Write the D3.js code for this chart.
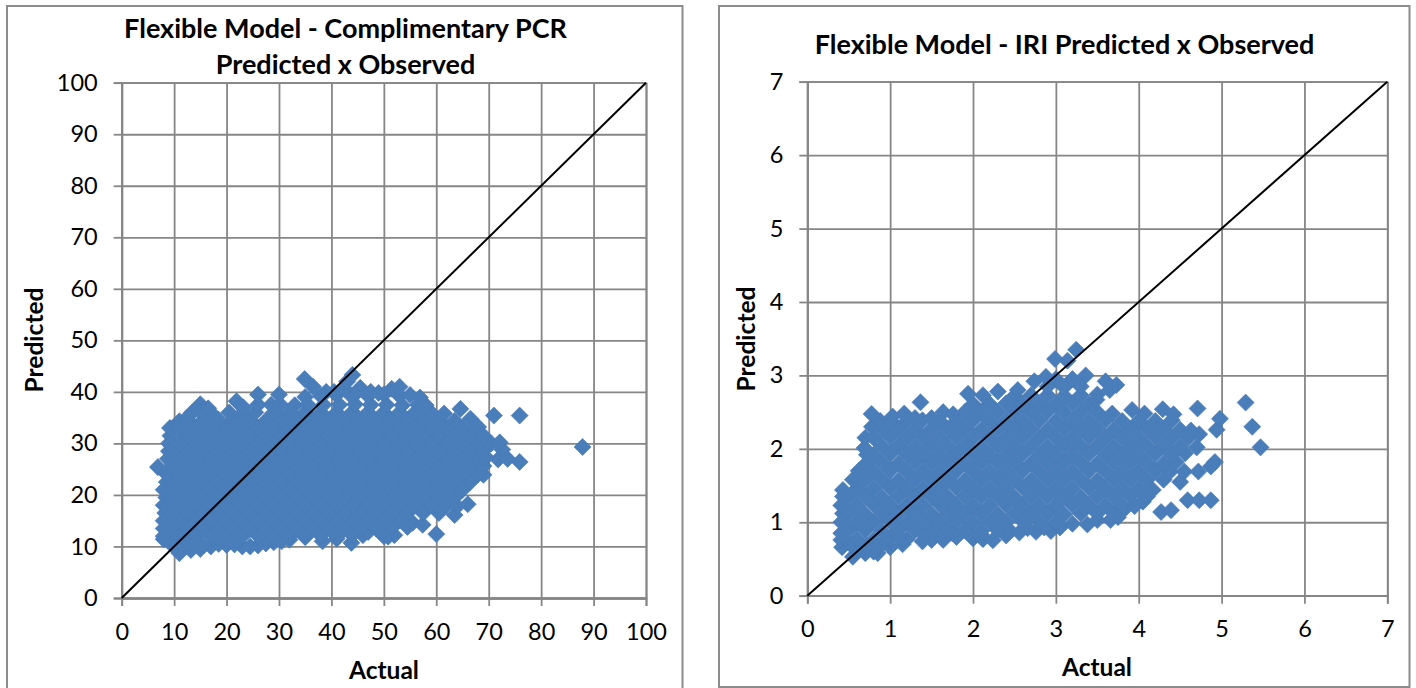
<!DOCTYPE html>
<html>
<head>
<meta charset="utf-8">
<title>Flexible Model - Predicted x Observed</title>
<script src="https://cdn.jsdelivr.net/npm/d3@7"></script>
<style>
  html, body { margin: 0; padding: 0; background: #fff; overflow: hidden; }
  svg { display: block; }
  text { font-family: Lato, "Open Sans", sans-serif; fill: #000; }
</style>
</head>
<body>
<div id="figure"></div>
<script>
// tick labels
const pcrTicks = [0, 10, 20, 30, 40, 50, 60, 70, 80, 90, 100];
const iriTicks = [0, 1, 2, 3, 4, 5, 6, 7];

// 1:1 reference lines
const pcrDiagonal = [[0, 0], [100, 100]];
const iriDiagonal = [[0, 0], [7, 7]];

// [actual, predicted]
const pcrPoints = [
  [11,8.7],[13.2,9.3],[15,9.5],[17,10],[20,10.3],[23,10],[26,10.2],[29,10.8],[32,11.3],[35,11.8],[41,11.5],[46,12.2],
  [9.5,10.4],[12.5,10.5],[15.5,10.3],[18.5,10.5],[21.5,10.4],[24.5,10],[27.5,10.6],[30.5,11],[38.3,11],[43.8,10.7],
  [8,11.4],[8,12],[11,12],[14,12],[17,12.1],[20,12],[23,12],[26,12.1],[29,12],[32,12],[35,12],[38,12.1],[41,12],[44,12.2],[47,12.8],[50,12],[50.8,11.9],[52,12.2],
  [8,13.5],[9.5,13.5],[12.5,13.5],[15.5,13.6],[18.5,13.5],[21.5,13.5],[24.5,13.4],[27.5,13.5],[30.5,13.5],[33.5,13.6],[36.5,13.5],[39.5,13.5],[42.5,13.4],[45.5,13.5],[48.5,13.5],[51.5,13.6],[54.5,13.8],
  [8,15],[11,15],[14,15.1],[17,15],[20,15],[23,15],[26,15],[29,15.1],[32,15],[35,15],[38,15],[41,15.1],[44,15],[47,15],[50,15],[53,15.1],[55.5,14.6],[57.4,14.2],
  [8.3,16.5],[9.5,16.4],[12.5,16.5],[15.5,16.5],[18.5,16.6],[21.5,16.5],[24.5,16.5],[27.5,16.5],[30.5,16.4],[33.5,16.5],[36.5,16.5],[39.5,16.6],[42.5,16.5],[45.5,16.5],[48.5,16.5],[51.5,16.4],[54.5,16.5],[57.5,16.5],[60.5,16.5],[63.5,16.1],
  [8,18],[11,18],[14,18],[17,18.1],[20,18],[23,18],[26,18],[29,18],[32,18.1],[35,18],[38,18],[41,18],[44,18],[47,18.1],[50,18],[53,18],[56,18],[59,18.1],[62,18],[66,18.2],[64,17.8],
  [8.5,19.5],[9.5,19.5],[12.5,19.5],[15.5,19.4],[18.5,19.5],[21.5,19.5],[24.5,19.6],[27.5,19.5],[30.5,19.5],[33.5,19.5],[36.5,19.4],[39.5,19.5],[42.5,19.5],[45.5,19.6],[48.5,19.5],[51.5,19.5],[54.5,19.5],[57.5,19.4],[60.5,19.5],[63.5,19.5],
  [8,21],[11,21],[14,21.1],[17,21],[20,21],[23,21],[26,21],[29,21.1],[32,21],[35,21],[38,21],[41,21],[44,21.1],[47,21],[50,21],[53,21],[56,21.1],[59,21],[62,21],[65,21],
  [8.6,22.5],[9.5,22.5],[12.5,22.5],[15.5,22.6],[18.5,22.5],[21.5,22.5],[24.5,22.4],[27.5,22.5],[30.5,22.5],[33.5,22.6],[36.5,22.5],[39.5,22.5],[42.5,22.4],[45.5,22.5],[48.5,22.5],[51.5,22.6],[54.5,22.5],[57.5,22.5],[60.5,22.4],[63.5,22.5],[66.5,22.5],
  [8.6,24],[11,24],[14,24],[17,24.1],[20,24],[23,24],[26,24],[29,24],[32,24.1],[35,24],[38,24],[41,24],[44,24],[47,24.1],[50,24],[53,24],[56,24],[59,24.1],[62,24],[65,24],[68,24],[69,23.9],
  [6.9,25.4],[9.5,25.5],[12.5,25.5],[15.5,25.4],[18.5,25.5],[21.5,25.5],[24.5,25.6],[27.5,25.5],[30.5,25.5],[33.5,25.4],[36.5,25.5],[39.5,25.5],[42.5,25.6],[45.5,25.5],[48.5,25.5],[51.5,25.5],[54.5,25.4],[57.5,25.5],[60.5,25.5],[63.5,25.6],[66.5,25.5],[69,25.6],
  [8.8,27],[11,27],[14,27.1],[17,27],[20,27],[23,27],[26,27],[29,27.1],[32,27],[35,27],[38,27],[41,27],[44,27.1],[47,27],[50,27],[53,27],[56,27.1],[59,27],[62,27],[65,27],[68,27.1],[69.5,27.3],[71.8,26.9],[73.6,27],[75.9,26.4],
  [9,28.5],[9.5,28.5],[12.5,28.5],[15.5,28.6],[18.5,28.5],[21.5,28.5],[24.5,28.4],[27.5,28.5],[30.5,28.5],[33.5,28.6],[36.5,28.5],[39.5,28.5],[42.5,28.4],[45.5,28.5],[48.5,28.5],[51.5,28.6],[54.5,28.5],[57.5,28.5],[60.5,28.4],[63.5,28.5],[66.5,28.5],[69,28.6],[72.6,28.8],
  [9,30],[11,30],[14,30],[17,30.1],[20,30],[23,30],[26,30],[29,30],[32,30.1],[35,30],[38,30],[41,30],[44,30],[47,30.1],[50,30],[53,30],[56,30],[59,30.1],[62,30],[65,30],[68,30],[70.5,30],[72.1,30.2],
  [9.3,31.5],[12.5,31.5],[15.5,31.4],[18.5,31.5],[21.5,31.5],[24.5,31.6],[27.5,31.5],[30.5,31.5],[33.5,31.4],[36.5,31.5],[39.5,31.5],[42.5,31.6],[45.5,31.5],[48.5,31.5],[51.5,31.5],[54.5,31.4],[57.5,31.5],[60.5,31.5],[63.5,31.6],[66.5,31.5],[69,31.5],
  [9.2,33],[11,33],[14,33.1],[17,33],[20,33],[23,33],[26,33],[29,33.1],[32,33],[35,33],[38,33],[41,33],[44,33.1],[47,33],[50,33],[53,33],[56,33.1],[59,33],[62,33],[65,33],[68,33.2],
  [11,34.3],[12.5,34.5],[15.5,34.5],[18.5,34.6],[21.5,34.5],[24.5,34.5],[27.5,34.4],[30.5,34.5],[33.5,34.5],[36.5,34.6],[39.5,34.5],[42.5,34.5],[45.5,34.4],[48.5,34.5],[51.5,34.5],[54.5,34.6],[57.5,34.5],[60.5,34.5],[63.5,34.4],[66.5,34.8],[71,35.4],[75.9,35.4],
  [12.5,35],[13.4,36],[15,36.2],[17,36],[20.5,36],[23,35.8],[25.5,36],[29,36],[32,36.1],[35,36],[38,36],[41,36],[44,36.1],[47,36],[50,36],[53,36],[56,36.1],[59,36],[61.5,35.8],[64.6,36.7],
  [15,37.6],[16.5,36.8],[21.9,38.2],[23.2,37],[26,37.5],[28.5,37.5],[30.2,37.6],[33,37.4],[35.5,37.5],[38.5,37.5],[41.5,37.5],[44.5,37.6],[47.5,37.5],[50.5,37.5],[53.5,37.4],[56.5,37.5],[58,37.4],
  [26,39.5],[30,39.5],[35,39],[38,39.2],[41,39.4],[44,39],[47,39.2],[50,39.5],[53,39.2],[55,39.4],[56.9,38.9],
  [36.5,41],[39,40],[40.5,40],[42.5,40.6],[45.5,40.8],[47.5,40],[49,39.8],[51.5,40.6],[53,41],
  [34.9,42.5],[43,42],[44,43.3],
  [87.9,29.3],[60,12.4]
];

// [actual, predicted]
const iriPoints = [
  [0.55,0.53],[0.7,0.58],[0.85,0.58],
  [0.42,0.66],[0.6,0.62],[0.8,0.6],[1,0.66],[1.15,0.7],[0.52,0.7],[0.72,0.68],[0.9,0.7],
  [0.41,0.76],[0.6,0.77],[0.8,0.76],[1,0.78],[1.2,0.77],[1.39,0.74],[1.5,0.76],[1.64,0.76],[1.8,0.8],[2,0.78],[2.12,0.77],[2.24,0.755],[2.4,0.82],[1.1,0.8],[1.4,0.84],[1.6,0.84],[1.75,0.85],[2.1,0.83],[2.45,0.88],
  [0.41,0.85],[0.5,0.89],[0.7,0.89],[0.9,0.88],[1.1,0.89],[1.3,0.89],[1.5,0.88],[1.7,0.89],[1.9,0.89],[2.1,0.88],[2.3,0.89],[2.56,0.86],[2.76,0.87],[2.94,0.88],[2.66,0.92],[2.86,0.93],[3.05,0.93],
  [0.41,1],[0.6,1],[0.8,1],[1,1.01],[1.2,1],[1.4,1],[1.6,1],[1.8,1.01],[2,1],[2.2,1],[2.4,1],[2.6,1.01],[2.8,1],[3,1],[3.2,0.98],[3.38,0.97],[3.66,1.03],[3.5,1.03],[3.75,1.07],
  [0.43,1.12],[0.5,1.12],[0.7,1.11],[0.9,1.12],[1.1,1.12],[1.3,1.12],[1.5,1.11],[1.7,1.12],[1.9,1.12],[2.1,1.12],[2.3,1.11],[2.5,1.12],[2.7,1.12],[2.9,1.12],[3.1,1.11],[3.3,1.12],[3.5,1.12],[3.7,1.12],[3.81,1.16],[4.27,1.14],[4.39,1.165],
  [0.41,1.23],[0.6,1.23],[0.8,1.24],[1,1.23],[1.2,1.23],[1.4,1.23],[1.6,1.24],[1.8,1.23],[2,1.23],[2.2,1.23],[2.4,1.24],[2.6,1.23],[2.8,1.23],[3,1.23],[3.2,1.24],[3.4,1.23],[3.6,1.23],[3.8,1.23],[4.05,1.28],[3.95,1.22],
  [0.43,1.35],[0.5,1.35],[0.7,1.35],[0.9,1.34],[1.1,1.35],[1.3,1.35],[1.5,1.35],[1.7,1.34],[1.9,1.35],[2.1,1.35],[2.3,1.35],[2.5,1.34],[2.7,1.35],[2.9,1.35],[3.1,1.35],[3.3,1.34],[3.5,1.35],[3.7,1.35],[3.9,1.35],[4.1,1.35],[4.59,1.3],[4.73,1.3],[4.87,1.3],
  [0.43,1.44],[0.6,1.46],[0.8,1.46],[1,1.47],[1.2,1.46],[1.4,1.46],[1.6,1.46],[1.8,1.47],[2,1.46],[2.2,1.46],[2.4,1.46],[2.6,1.47],[2.8,1.46],[3,1.46],[3.2,1.46],[3.4,1.47],[3.6,1.46],[3.8,1.46],[4,1.46],[4.17,1.44],
  [0.55,1.58],[0.7,1.58],[0.9,1.58],[1.1,1.57],[1.3,1.58],[1.5,1.58],[1.7,1.58],[1.9,1.57],[2.1,1.58],[2.3,1.58],[2.5,1.58],[2.7,1.57],[2.9,1.58],[3.1,1.58],[3.3,1.58],[3.5,1.57],[3.7,1.58],[3.9,1.58],[4.1,1.58],[4.3,1.58],[4.5,1.55],
  [0.62,1.7],[0.8,1.69],[1,1.7],[1.2,1.69],[1.4,1.69],[1.6,1.69],[1.8,1.7],[2,1.69],[2.2,1.69],[2.4,1.69],[2.6,1.7],[2.8,1.69],[3,1.69],[3.2,1.69],[3.4,1.7],[3.6,1.69],[3.8,1.69],[4,1.69],[4.2,1.7],[4.38,1.69],[4.55,1.69],[4.72,1.69],
  [0.72,1.81],[0.9,1.81],[1.1,1.8],[1.3,1.81],[1.5,1.81],[1.7,1.81],[1.9,1.8],[2.1,1.81],[2.3,1.81],[2.5,1.81],[2.7,1.8],[2.9,1.81],[3.1,1.81],[3.3,1.81],[3.5,1.8],[3.7,1.81],[3.9,1.81],[4.1,1.81],[4.3,1.8],[4.45,1.82],[4.92,1.82],[4.87,1.76],
  [0.72,1.92],[0.8,1.92],[1,1.93],[1.2,1.92],[1.4,1.92],[1.6,1.92],[1.8,1.93],[2,1.92],[2.2,1.92],[2.4,1.92],[2.6,1.93],[2.8,1.92],[3,1.92],[3.2,1.92],[3.4,1.93],[3.6,1.92],[3.8,1.92],[4,1.92],[4.2,1.93],[4.4,1.92],[4.56,1.94],
  [0.69,2.01],[0.9,2.04],[1.1,2.04],[1.3,2.03],[1.5,2.04],[1.7,2.04],[1.9,2.04],[2.1,2.03],[2.3,2.04],[2.5,2.04],[2.7,2.04],[2.9,2.03],[3.1,2.04],[3.3,2.04],[3.5,2.04],[3.7,2.03],[3.9,2.04],[4.1,2.04],[4.3,2.04],[4.5,2.03],[4.7,2.02],[5.47,2.02],
  [0.7,2.15],[0.8,2.15],[1,2.16],[1.2,2.15],[1.4,2.15],[1.6,2.15],[1.8,2.16],[2,2.15],[2.2,2.15],[2.4,2.15],[2.6,2.16],[2.8,2.15],[3,2.15],[3.2,2.15],[3.4,2.16],[3.6,2.15],[3.8,2.15],[4,2.15],[4.2,2.16],[4.4,2.15],[4.6,2.15],[4.73,2.2],
  [0.78,2.3],[0.9,2.27],[1.1,2.27],[1.3,2.26],[1.5,2.27],[1.7,2.27],[1.9,2.27],[2.1,2.26],[2.3,2.27],[2.5,2.27],[2.7,2.27],[2.9,2.26],[3.1,2.27],[3.3,2.27],[3.5,2.27],[3.7,2.26],[3.9,2.27],[4.1,2.27],[4.3,2.27],[4.5,2.26],[4.63,2.25],[4.94,2.26],
  [0.88,2.38],[1,2.38],[1.2,2.38],[1.39,2.39],[1.6,2.38],[1.8,2.38],[2,2.39],[2.2,2.38],[2.4,2.38],[2.6,2.38],[2.8,2.39],[3,2.38],[3.2,2.38],[3.4,2.38],[3.6,2.39],[3.8,2.38],[4,2.38],[4.2,2.38],[4.4,2.39],[4.98,2.41],[5.37,2.3],
  [0.776,2.475],[1.03,2.44],[1.17,2.48],[1.3,2.42],[1.5,2.42],[1.64,2.5],[1.76,2.47],[1.9,2.5],[2.1,2.5],[2.3,2.5],[2.5,2.5],[2.7,2.5],[2.9,2.51],[3.1,2.5],[3.3,2.5],[3.5,2.5],[3.68,2.48],[3.92,2.53],[4.07,2.48],[4.29,2.54],[4.42,2.47],[4.71,2.55],
  [1.366,2.634],[2,2.61],[2.2,2.61],[2.4,2.62],[2.6,2.61],[2.8,2.61],[3,2.61],[3.2,2.62],[3.4,2.61],[3.49,2.67],[5.29,2.63],
  [1.94,2.75],[2.12,2.73],[2.3,2.78],[2.5,2.72],[2.7,2.73],[2.9,2.73],[3.1,2.72],[3.3,2.73],[3.5,2.74],[3.65,2.8],
  [2.54,2.8],[2.74,2.92],[2.9,2.85],[3.1,2.84],[3.3,2.85],[3.6,2.92],[3.73,2.87],
  [2.88,2.98],[3,2.95],[3.2,2.95],[3.36,3],
  [2.99,3.225],[3.14,3.2],[3.245,3.35]
];

const width = 1416, height = 688;
const gridColor = "#868686";

const svg = d3.select("#figure").append("svg")
  .attr("width", width)
  .attr("height", height);

function drawChart(opt) {
  const x = d3.scaleLinear().domain([0, opt.max]).range([opt.left, opt.right]);
  const y = d3.scaleLinear().domain([0, opt.max]).range([opt.bottom, opt.top]);
  const g = svg.append("g");

  // chart border
  g.append("rect")
    .attr("x", opt.frame[0]).attr("y", opt.frame[1])
    .attr("width", opt.frame[2] - opt.frame[0]).attr("height", opt.frame[3] - opt.frame[1])
    .attr("fill", "#fff").attr("stroke", "#8c8c8c").attr("stroke-width", 2);

  // gridlines, drawn with the axes so they sit under the markers
  const xAxis = d3.axisBottom(x).tickValues(opt.ticks).tickSize(8).tickPadding(opt.xPad).tickFormat(d3.format("d"));
  const yAxis = d3.axisLeft(y).tickValues(opt.ticks).tickSize(8).tickPadding(opt.yPad).tickFormat(d3.format("d"));
  const xGrid = d3.axisBottom(x).tickValues(opt.ticks).tickSize(opt.top - opt.bottom).tickFormat("");
  const yGrid = d3.axisLeft(y).tickValues(opt.ticks).tickSize(opt.left - opt.right).tickFormat("");

  g.append("g").attr("transform", `translate(0,${opt.bottom})`).call(xGrid);
  g.append("g").attr("transform", `translate(${opt.left},0)`).call(yGrid);
  g.append("g").attr("transform", `translate(0,${opt.bottom})`).call(xAxis);
  g.append("g").attr("transform", `translate(${opt.left},0)`).call(yAxis);

  g.selectAll(".domain, .tick line")
    .attr("stroke", gridColor)
    .attr("stroke-width", 1.8);
  g.selectAll(".tick text")
    .style("font-size", "23.5px")
    .attr("fill", "#000");

  // markers
  const diamond = d3.symbol().type(d3.symbolSquare).size(145);
  g.append("g").selectAll("path")
    .data(opt.points)
    .join("path")
    .attr("d", diamond)
    .attr("transform", d => `translate(${x(d[0])},${y(d[1])}) rotate(45)`)
    .attr("fill", "#4a7ebb")
    .attr("stroke", "#487ab6")
    .attr("stroke-width", 0.6);

  // 1:1 line on top
  g.append("path")
    .datum(opt.diagonal)
    .attr("d", d3.line().x(d => x(d[0])).y(d => y(d[1])))
    .attr("fill", "none")
    .attr("stroke", "#000")
    .attr("stroke-width", 2);

  // titles
  opt.title.forEach((t, i) => {
    g.append("text")
      .attr("x", opt.titleX).attr("y", opt.titleY[i])
      .attr("text-anchor", "middle")
      .style("font-size", "27px").style("font-weight", 700)
      .text(t);
  });
  g.append("text")
    .attr("x", opt.xLabel[0]).attr("y", opt.xLabel[1])
    .attr("text-anchor", "middle")
    .style("font-size", "24.5px").style("font-weight", 700)
    .text("Actual");
  g.append("text")
    .attr("transform", `translate(${opt.yLabel[0]},${opt.yLabel[1]}) rotate(-90)`)
    .attr("text-anchor", "middle")
    .style("font-size", "24.5px").style("font-weight", 700)
    .text("Predicted");
}

drawChart({
  max: 100, ticks: pcrTicks, points: pcrPoints, diagonal: pcrDiagonal,
  left: 121.7, right: 646, top: 82.7, bottom: 598,
  frame: [7, 6, 682.5, 700], xPad: 17, yPad: 16,
  title: ["Flexible Model - Complimentary PCR", "Predicted x Observed"],
  titleX: 345.5, titleY: [38, 74],
  xLabel: [384, 679], yLabel: [43, 340]
});

drawChart({
  max: 7, ticks: iriTicks, points: iriPoints, diagonal: iriDiagonal,
  left: 807.3, right: 1387.3, top: 81.7, bottom: 595.7,
  frame: [719, 6, 1409.5, 687], xPad: 17, yPad: 16,
  title: ["Flexible Model - IRI Predicted x Observed"],
  titleX: 1064.5, titleY: [54],
  xLabel: [1097, 676], yLabel: [755, 339]
});
</script>
</body>
</html>
